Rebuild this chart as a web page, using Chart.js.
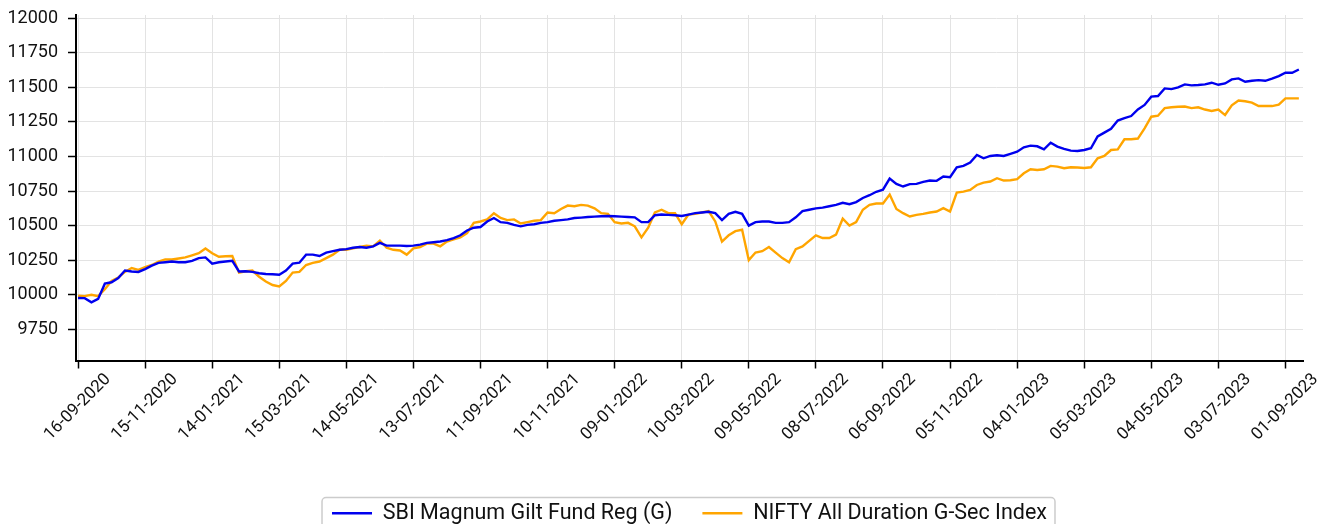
<!DOCTYPE html>
<html>
<head>
<meta charset="utf-8">
<script src="https://cdn.jsdelivr.net/npm/chart.js@4.4.0/dist/chart.umd.min.js"></script>
<style>
    html, body { margin: 0; padding: 0; background: #fff; overflow: hidden; }
</style>
</head>
<body>
<canvas id="navChart" width="1323" height="560"></canvas>
<script>
// Growth of 10000, sampled every 6 days starting 16-09-2020 (one row = 60 days)
const STEP_DAYS = 6;
const TICK_DAYS = 60;

const sbiFund = [
    9976, 9975, 9945, 9970, 10080, 10090, 10120, 10175, 10168, 10165,
    10185, 10210, 10230, 10235, 10240, 10235, 10235, 10245, 10265, 10270,
    10225, 10235, 10240, 10245, 10168, 10170, 10165, 10155, 10150, 10148,
    10145, 10175, 10225, 10232, 10290, 10290, 10280, 10305, 10315, 10325,
    10330, 10340, 10345, 10340, 10350, 10375, 10355, 10355, 10355, 10352,
    10355, 10362, 10375, 10380, 10385, 10395, 10410, 10430, 10465, 10485,
    10490, 10530, 10555, 10525, 10520, 10505, 10495, 10505, 10510, 10520,
    10525, 10535, 10540, 10545, 10555, 10558, 10562, 10565, 10568, 10570,
    10568, 10565, 10562, 10560, 10525, 10525, 10575, 10580, 10578, 10575,
    10570, 10580, 10590, 10595, 10600, 10590, 10540, 10585, 10600, 10585,
    10500, 10525, 10530, 10530, 10520, 10520, 10525, 10560, 10605, 10615,
    10625, 10630, 10640, 10650, 10665, 10655, 10670, 10700, 10720, 10745,
    10760, 10840, 10802, 10783, 10800, 10802, 10816, 10826, 10824, 10855,
    10850, 10922, 10932, 10956, 11011, 10987, 11004, 11009, 11004, 11019,
    11035, 11067, 11079, 11074, 11052, 11100, 11072, 11055, 11043, 11040,
    11047, 11060, 11145, 11173, 11200, 11260, 11278, 11293, 11341, 11373,
    11433, 11438, 11493, 11488, 11500, 11522, 11515, 11517, 11522, 11534,
    11519, 11529, 11558, 11565, 11541, 11548, 11553, 11548, 11563, 11582,
    11606, 11606, 11630
];

const niftyIndex = [
    9993, 9990, 10000, 9990, 10040, 10100, 10125, 10165, 10193, 10180,
    10200, 10215, 10240, 10255, 10255, 10262, 10270, 10285, 10300, 10335,
    10300, 10275, 10278, 10280, 10160, 10170, 10175, 10130, 10095, 10070,
    10060, 10100, 10160, 10165, 10215, 10230, 10240, 10265, 10290, 10325,
    10325, 10335, 10345, 10355, 10350, 10392, 10340, 10325, 10320, 10290,
    10335, 10345, 10370, 10370, 10350, 10385, 10400, 10415, 10445, 10520,
    10530, 10545, 10590, 10555, 10540, 10545, 10515, 10525, 10535, 10540,
    10595, 10590, 10620, 10645, 10640, 10650, 10645, 10625, 10590, 10585,
    10525, 10515, 10520, 10495, 10415, 10485, 10595, 10615, 10590, 10590,
    10510, 10580, 10585, 10595, 10605, 10530, 10385, 10430, 10460, 10470,
    10250, 10305, 10315, 10345, 10305, 10265, 10235, 10330, 10350, 10390,
    10430, 10410, 10410, 10435, 10550, 10500, 10525, 10615, 10650, 10660,
    10660, 10725, 10620, 10590, 10566, 10578, 10585, 10595, 10602, 10626,
    10602, 10739, 10746, 10758, 10794, 10811, 10819, 10843, 10826, 10828,
    10836, 10879, 10908, 10903, 10908, 10932, 10927, 10915, 10922, 10920,
    10917, 10922, 10987, 11004, 11047, 11052, 11125, 11125, 11130, 11204,
    11288, 11295, 11350, 11356, 11360, 11362, 11350, 11356, 11340, 11330,
    11340, 11300, 11370, 11405, 11400, 11390, 11365, 11365, 11365, 11375,
    11421, 11421, 11421
];

const dateTickLabels = [
    '16-09-2020', '15-11-2020', '14-01-2021', '15-03-2021', '14-05-2021',
    '13-07-2021', '11-09-2021', '10-11-2021', '09-01-2022', '10-03-2022',
    '09-05-2022', '08-07-2022', '06-09-2022', '05-11-2022', '04-01-2023',
    '05-03-2023', '04-05-2023', '03-07-2023', '01-09-2023'
];

const yTickValues = [9750, 10000, 10250, 10500, 10750, 11000, 11250, 11500, 11750, 12000];

const seriesNames = ['SBI Magnum Gilt Fund Reg (G)', 'NIFTY All Duration G-Sec Index'];

// Turn a value list into {x: day, y} points
function toPoints(values) {
    return values.map((v, i) => ({ x: i * STEP_DAYS, y: v }));
}

// Rounded frame round the legend, like the matplotlib legend box
const legendFrame = {
    id: 'legendFrame',
    afterDraw(chart) {
        const boxes = chart.legend && chart.legend.legendHitBoxes;
        if (!boxes || !boxes.length) return;
        const first = boxes[0];
        const last = boxes[boxes.length - 1];
        const left = first.left - 10;
        const right = last.left + last.width + 8;
        const top = first.top - 5;
        const ctx = chart.ctx;
        ctx.save();
        ctx.strokeStyle = '#cccccc';
        ctx.lineWidth = 1.5;
        ctx.beginPath();
        ctx.roundRect(left, top, right - left, 60, 4);
        ctx.stroke();
        ctx.restore();
    }
};

const gridColor = '#e3e3e3';

new Chart(document.getElementById('navChart'), {
    type: 'line',
    data: {
        datasets: [
            {
                label: seriesNames[0],
                data: toPoints(sbiFund),
                borderColor: '#0000ee',
                backgroundColor: '#0000ee',
                borderWidth: 2.4,
                pointRadius: 0,
                tension: 0
            },
            {
                label: seriesNames[1],
                data: toPoints(niftyIndex),
                borderColor: '#ffa500',
                backgroundColor: '#ffa500',
                borderWidth: 2.4,
                pointRadius: 0,
                tension: 0
            }
        ]
    },
    options: {
        responsive: false,
        animation: false,
        layout: { padding: { top: 15, right: 20, left: 0, bottom: 26 } },
        plugins: {
            tooltip: { enabled: false },
            legend: {
                position: 'bottom',
                fullSize: false,
                labels: {
                    usePointStyle: true,
                    pointStyle: 'line',
                    pointStyleWidth: 40,
                    padding: 30,
                    color: '#111',
                    font: { family: 'Roboto', size: 21.5 }
                }
            }
        },
        scales: {
            x: {
                type: 'linear',
                min: -1.8,
                max: 1095.7,
                afterBuildTicks: scale => {
                    scale.ticks = dateTickLabels.map((_, i) => ({ value: i * TICK_DAYS }));
                },
                afterFit: scale => { scale.height = 112; },
                ticks: {
                    autoSkip: false,
                    minRotation: 45,
                    maxRotation: 45,
                    padding: 1,
                    labelOffset: 30,
                    color: '#111',
                    font: { family: 'Roboto', size: 17 },
                    callback: (value, index) => dateTickLabels[index]
                },
                grid: {
                    color: gridColor,
                    lineWidth: 1,
                    tickColor: '#000',
                    tickLength: 8,
                    tickWidth: 1.5
                },
                border: { color: '#000', width: 2 }
            },
            y: {
                min: 9524,
                max: 12024,
                afterBuildTicks: scale => {
                    scale.ticks = yTickValues.map(v => ({ value: v }));
                },
                afterFit: scale => {
                    scale.width = 76;
                    scale.paddingTop = 0;
                    scale.paddingBottom = 0;
                },
                ticks: {
                    padding: 10,
                    color: '#111',
                    font: { family: 'Roboto', size: 18 },
                    callback: value => String(value)
                },
                grid: {
                    color: gridColor,
                    lineWidth: 1,
                    tickColor: '#000',
                    tickLength: 8,
                    tickWidth: 1.5
                },
                border: { color: '#000', width: 2 }
            }
        }
    },
    plugins: [legendFrame]
});
</script>
</body>
</html>
